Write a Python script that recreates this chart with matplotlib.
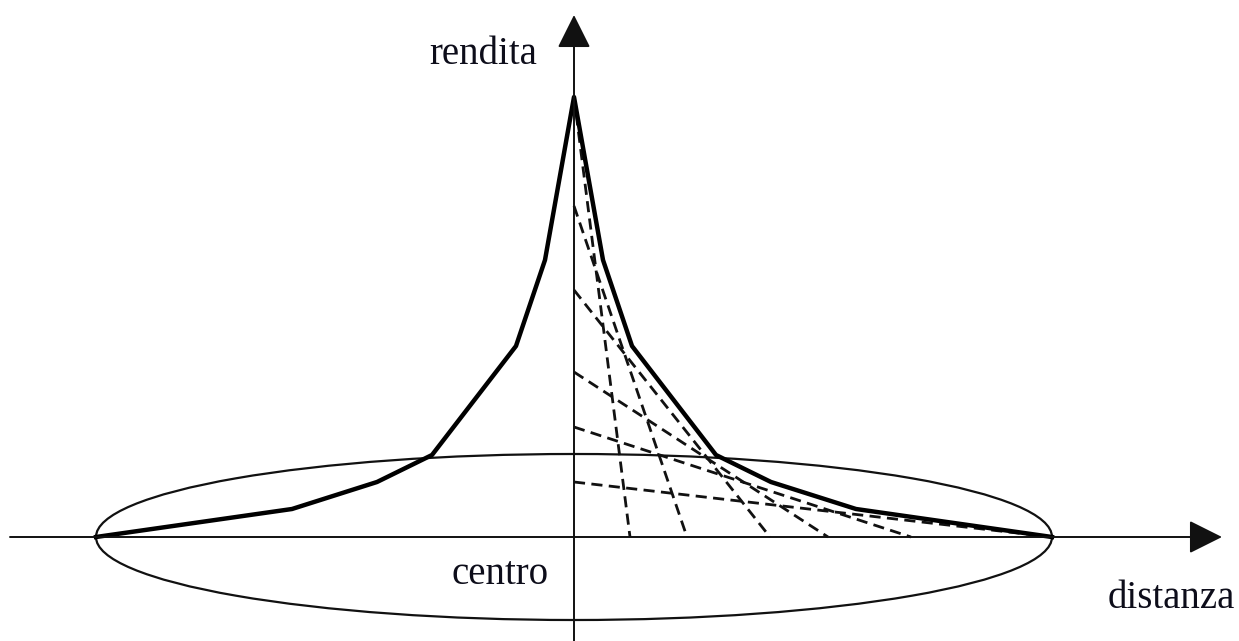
import numpy as np
import matplotlib
matplotlib.use("Agg")
import matplotlib.pyplot as plt
from matplotlib.patches import Ellipse

# bid-rent envelope (right half, mirrored to the left); units ~ pixels from the centre
curve_x = [0, 29, 58, 142, 197, 282, 478]
curve_y = [440, 277, 191, 82, 55, 28, 0]

# dashed bid-rent lines: intercept on rent axis and on distance axis
dash_y0 = [440, 331, 247, 165, 110, 55]
dash_x0 = [56, 113, 196, 254, 337, 478]

# city boundary (ellipse) semi-axes
city_a = 478
city_b = 83

fig = plt.figure(figsize=(12.39, 6.41), dpi=100)
ax = fig.add_axes([0, 0, 1, 1])
ax.set_xlim(-574, 665)
ax.set_ylim(-104, 537)
ax.axis('off')

# axes with arrow heads
arrow = dict(arrowstyle='-|>', mutation_scale=52, lw=1.4, color='#111111', shrinkA=0, shrinkB=0)
ax.annotate('', xy=(648, 0), xytext=(-564, 0), arrowprops=arrow)
ax.annotate('', xy=(0, 522), xytext=(0, -110), arrowprops=arrow)

# city ellipse
ax.add_patch(Ellipse((0, 0), 2 * city_a, 2 * city_b, fill=False, lw=1.6, color='#111111'))

# dashed lines
for y0, x0 in zip(dash_y0, dash_x0):
    ax.plot([0, x0], [y0, 0], color='#111111', lw=2.0, dashes=(4, 2.3))

# envelope curve
cx = np.array(curve_x)
cy = np.array(curve_y)
full_x = np.concatenate([-cx[::-1], cx[1:]])
full_y = np.concatenate([cy[::-1], cy[1:]])
ax.plot(full_x, full_y, color='black', lw=3.2, solid_joinstyle='round')

font = dict(family='Liberation Serif', fontsize=28, color='#0d0d1a')
ax.text(-91, 482, 'rendita', ha='center', va='center', **font)
ax.text(-74, -38, 'centro', ha='center', va='center', **font)
ax.text(597, -61, 'distanza', ha='center', va='center', **font)

fig.savefig('out.png', dpi=100)
